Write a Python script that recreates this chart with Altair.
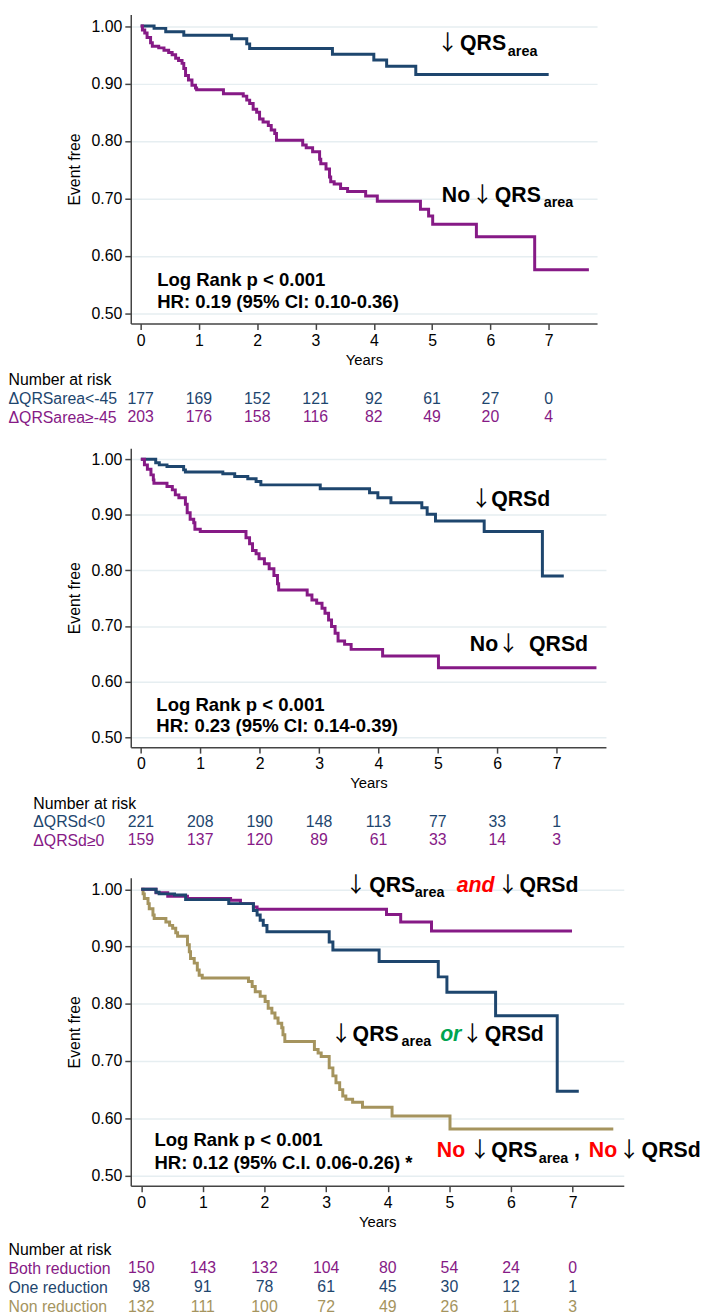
import json
import altair as alt
import pandas as pd

FONT = "Liberation Sans"
ARROW_FONT = "Noto Sans CJK SC"
BLUE = "#1e466e"
PURPLE = "#861a86"
GOLD = "#a5945e"
RED = "#ff0000"
GREEN = "#00a550"
BLACK = "#000000"

years = [0, 1, 2, 3, 4, 5, 6, 7]
y_ticks = [0.5, 0.6, 0.7, 0.8, 0.9, 1.0]

# ---------------- Panel 1 : QRS area ----------------
p1_dec_t = [0, 0.23, 0.43, 0.74, 1.56, 1.82, 1.87, 3.29, 4.0, 4.22, 4.72, 7.0]
p1_dec_s = [1.0, 0.996, 0.990, 0.984, 0.978, 0.969, 0.961, 0.951, 0.941, 0.930, 0.9155, 0.9155]
p1_nodec_t = [0, 0.03, 0.07, 0.11, 0.17, 0.20, 0.31, 0.40, 0.48, 0.54, 0.60, 0.65, 0.71, 0.74, 0.77,
              0.82, 0.88, 0.94, 0.96, 1.42, 1.76, 1.82, 1.87, 1.93, 1.99, 2.04, 2.10, 2.19, 2.24, 2.30,
              2.33, 2.78, 2.84, 2.95, 3.07, 3.09, 3.18, 3.24, 3.26, 3.32, 3.43, 3.55, 3.86, 4.06, 4.80,
              4.94, 5.01, 5.76, 6.76, 7.69]
p1_nodec_s = [1.0, 0.993, 0.988, 0.980, 0.971, 0.965, 0.962, 0.958, 0.954, 0.950, 0.944, 0.940, 0.935,
              0.926, 0.914, 0.906, 0.897, 0.892, 0.889, 0.882, 0.878, 0.871, 0.865, 0.855, 0.850, 0.838,
              0.833, 0.827, 0.819, 0.813, 0.801, 0.793, 0.788, 0.781, 0.768, 0.760, 0.751, 0.737, 0.729,
              0.725, 0.717, 0.712, 0.704, 0.695, 0.681, 0.669, 0.655, 0.633, 0.5755, 0.5755]

p1_risk_labels = ["ΔQRSarea<-45", "ΔQRSarea≥-45"]
p1_risk_dec = [177, 169, 152, 121, 92, 61, 27, 0]
p1_risk_nodec = [203, 176, 158, 116, 82, 49, 20, 4]

p1_ann_text = ["↓", "QRS", "area", "No", "↓", "QRS", "area"]
p1_ann_kind = ["arrow", "bold", "sub", "bold", "arrow", "bold", "sub"]
p1_ann_t = [5.267, 5.479, 6.300, 5.167, 5.863, 6.075, 6.915]
p1_ann_s = [0.9578, 0.9578, 0.9481, 0.6931, 0.6931, 0.6931, 0.6853]
p1_stats = ["Log Rank p < 0.001", "HR: 0.19 (95% CI: 0.10-0.36)"]
p1_stats_t = [0.283, 0.283]
p1_stats_s = [0.5569, 0.5186]

# ---------------- Panel 2 : QRS duration ----------------
p2_dec_t = [0, 0.25, 0.31, 0.44, 0.72, 0.75, 1.38, 1.58, 1.80, 1.94, 2.02, 3.02, 3.85, 3.99, 4.21,
            4.73, 4.82, 4.96, 5.78, 6.76, 7.12]
p2_dec_s = [1.0, 0.994, 0.990, 0.987, 0.981, 0.977, 0.974, 0.969, 0.965, 0.960, 0.954, 0.947, 0.940,
            0.931, 0.922, 0.913, 0.901, 0.889, 0.870, 0.790, 0.790]
p2_nodec_t = [0, 0.06, 0.11, 0.17, 0.21, 0.22, 0.44, 0.53, 0.58, 0.64, 0.75, 0.78, 0.83, 0.89, 0.91,
              1.00, 1.77, 1.83, 1.88, 1.94, 1.99, 2.08, 2.16, 2.24, 2.30, 2.32, 2.80, 2.88, 2.96, 3.05,
              3.10, 3.16, 3.21, 3.27, 3.32, 3.43, 3.54, 4.07, 5.01, 7.67]
p2_nodec_s = [1.0, 0.990, 0.982, 0.972, 0.963, 0.957, 0.951, 0.945, 0.936, 0.931, 0.919, 0.904, 0.892,
              0.886, 0.874, 0.870, 0.859, 0.848, 0.836, 0.830, 0.821, 0.812, 0.803, 0.791, 0.776, 0.765,
              0.756, 0.747, 0.741, 0.732, 0.723, 0.711, 0.699, 0.687, 0.673, 0.667, 0.658, 0.646, 0.625,
              0.625]

p2_risk_labels = ["ΔQRSd<0", "ΔQRSd≥0"]
p2_risk_dec = [221, 208, 190, 148, 113, 77, 33, 1]
p2_risk_nodec = [159, 137, 120, 89, 61, 33, 14, 3]

p2_ann_text = ["↓", "QRSd", "No", "↓", "QRSd"]
p2_ann_kind = ["arrow", "bold", "bold", "arrow", "bold"]
p2_ann_t = [5.731, 5.897, 5.538, 6.188, 6.535]
p2_ann_s = [0.9158, 0.9158, 0.6548, 0.6548, 0.6548]
p2_stats = ["Log Rank p < 0.001", "HR: 0.23 (95% CI: 0.14-0.39)"]
p2_stats_t = [0.261, 0.261]
p2_stats_s = [0.5587, 0.5196]

# ---------------- Panel 3 : combined ----------------
p3_both_t = [0, 0.24, 0.43, 0.75, 1.45, 1.61, 1.82, 1.88, 3.98, 4.21, 4.71, 6.99]
p3_both_s = [1.0, 0.994, 0.988, 0.984, 0.981, 0.975, 0.969, 0.965, 0.956, 0.943, 0.927, 0.927]
p3_one_t = [0, 0.24, 0.29, 0.54, 0.72, 1.42, 1.82, 1.88, 1.93, 1.98, 2.04, 3.05, 3.11, 3.86, 4.82,
            4.96, 5.75, 6.75, 7.10]
p3_one_s = [1.0, 0.995, 0.992, 0.990, 0.982, 0.975, 0.963, 0.955, 0.946, 0.937, 0.926, 0.908, 0.894,
            0.874, 0.847, 0.820, 0.779, 0.647, 0.647]
p3_non_t = [0, 0.03, 0.05, 0.11, 0.13, 0.19, 0.21, 0.40, 0.46, 0.51, 0.56, 0.59, 0.75, 0.78, 0.80,
            0.86, 0.91, 0.94, 0.99, 1.74, 1.80, 1.85, 1.93, 2.01, 2.06, 2.12, 2.17, 2.22, 2.28, 2.30,
            2.33, 2.81, 2.87, 2.92, 3.05, 3.11, 3.16, 3.22, 3.27, 3.32, 3.43, 3.59, 4.07, 5.01, 7.66]
p3_non_s = [1.0, 0.992, 0.984, 0.975, 0.966, 0.955, 0.949, 0.943, 0.937, 0.932, 0.924, 0.918, 0.903,
            0.891, 0.879, 0.871, 0.859, 0.850, 0.845, 0.839, 0.830, 0.821, 0.813, 0.804, 0.792, 0.784,
            0.775, 0.766, 0.758, 0.746, 0.734, 0.720, 0.714, 0.708, 0.688, 0.674, 0.662, 0.650, 0.639,
            0.633, 0.628, 0.619, 0.604, 0.581, 0.581]

p3_risk_labels = ["Both reduction", "One reduction", "Non reduction"]
p3_risk_both = [150, 143, 132, 104, 80, 54, 24, 0]
p3_risk_one = [98, 91, 78, 61, 45, 30, 12, 1]
p3_risk_non = [132, 111, 100, 72, 49, 26, 11, 3]

p3_ann_text = ["↓", "QRS", "area", "and", "↓", "QRSd",
               "↓", "QRS", "area", "or", "↓", "QRSd",
               "No", "↓", "QRS", "area", ",", "No", "↓", "QRSd"]
p3_ann_kind = ["arrow", "bold", "sub", "italic", "arrow", "bold",
               "arrow", "bold", "sub", "italic", "arrow", "bold",
               "bold", "arrow", "bold", "sub", "bold", "bold", "arrow", "bold"]
p3_ann_color = [BLACK, BLACK, BLACK, RED, BLACK, BLACK,
                BLACK, BLACK, BLACK, GREEN, BLACK, BLACK,
                RED, BLACK, BLACK, BLACK, BLACK, RED, BLACK, BLACK]
p3_ann_t = [3.484, 3.698, 4.440, 5.118, 5.949, 6.136,
            3.243, 3.430, 4.225, 4.850, 5.373, 5.574,
            4.796, 5.493, 5.681, 6.450, 7.021, 7.262, 7.918, 8.119]
p3_ann_s = [0.9953, 0.9953, 0.9866, 0.9953, 0.9953, 0.9953,
            0.7345, 0.7345, 0.7257, 0.7345, 0.7345, 0.7345,
            0.5317, 0.5317, 0.5317, 0.5217, 0.5317, 0.5317, 0.5317, 0.5317]
p3_stats = ["Log Rank p < 0.001", "HR: 0.12 (95% C.I. 0.06-0.26) *"]
p3_stats_t = [0.214, 0.214]
p3_stats_s = [0.5617, 0.5217]

# ---------------- styling ----------------
X_DOMAIN = [-0.17, 7.83]
Y_DOMAIN = [0.482, 1.02]
KIND_STYLE = {
    "bold": dict(size=21.5, weight="bold", style="normal", font=FONT, align="left"),
    "sub": dict(size=14.5, weight="bold", style="normal", font=FONT, align="left"),
    "arrow": dict(size=21.5, weight="normal", style="normal", font=ARROW_FONT, align="center"),
    "italic": dict(size=21.5, weight="bold", style="italic", font=FONT, align="left"),
}


def x_enc():
    return alt.X("t:Q", scale=alt.Scale(domain=X_DOMAIN, nice=False, zero=False),
                 axis=alt.Axis(values=years, format="d", title="Years", grid=False,
                               labelFontSize=16, titleFontSize=15, tickSize=6, labelPadding=3,
                               titlePadding=4, labelFlush=False, titleFontWeight="normal"))


def y_enc():
    return alt.Y("S:Q", scale=alt.Scale(domain=Y_DOMAIN, nice=False, zero=False),
                 axis=alt.Axis(values=y_ticks, format=".2f", title="Event free", grid=True,
                               labelFontSize=16, titleFontSize=16, tickSize=6, labelPadding=3,
                               titlePadding=9, titleFontWeight="normal"))


def panel(curves, ann_text, ann_kind, ann_t, ann_s, ann_color, stats, stats_t, stats_s, width, height):
    rows = []
    for name, ts, ss, col in curves:
        for t, s in zip(ts, ss):
            rows.append({"group": name, "t": t, "S": s, "color": col})
    cdf = pd.DataFrame(rows)
    layers = [
        alt.Chart(cdf).mark_line(interpolate="step-after", strokeWidth=3).encode(
            x=x_enc(), y=y_enc(), detail="group:N", color=alt.Color("color:N", scale=None))
    ]
    adf = pd.DataFrame({"text": ann_text, "kind": ann_kind, "t": ann_t, "S": ann_s, "color": ann_color})
    for kind, st in KIND_STYLE.items():
        sub = adf[adf["kind"] == kind].copy()
        if sub.empty:
            continue
        sub["size"] = st["size"]
        layers.append(
            alt.Chart(sub).mark_text(font=st["font"], fontWeight=st["weight"], fontStyle=st["style"],
                                     align=st["align"], baseline="alphabetic").encode(
                x=x_enc(), y=y_enc(), text="text:N",
                size=alt.Size("size:Q", scale=None), color=alt.Color("color:N", scale=None)))
    sdf = pd.DataFrame({"text": stats, "t": stats_t, "S": stats_s})
    layers.append(
        alt.Chart(sdf).mark_text(font=FONT, fontWeight="bold", fontSize=18.7, align="left",
                                 baseline="middle", color=BLACK).encode(
            x=x_enc(), y=y_enc(), text="text:N"))
    return alt.layer(*layers).properties(width=width, height=height)


def risk_table(labels, colors, counts, width, height, top_offset, step, label_pad):
    all_labels = ["Number at risk"] + labels
    rows = []
    for i, (col, cnts) in enumerate(zip(colors, counts)):
        for y, c in zip(years, cnts):
            rows.append({"row": i + 1, "t": y, "n": str(c), "color": col})
    df = pd.DataFrame(rows)
    top_pad = top_offset / step
    total = height / step
    label_expr = json.dumps(all_labels, ensure_ascii=False) + "[datum.value]"
    conds = [{"test": f"datum.value == {i + 1}", "value": c} for i, c in enumerate(colors)]
    return alt.Chart(df).mark_text(font=FONT, fontSize=16, align="center", baseline="middle").encode(
        x=alt.X("t:Q", scale=alt.Scale(domain=X_DOMAIN, nice=False, zero=False), axis=None),
        y=alt.Y("row:Q", scale=alt.Scale(domain=[-top_pad, total - top_pad], reverse=True,
                                         nice=False, zero=False),
                axis=alt.Axis(values=list(range(len(all_labels))), labelExpr=label_expr,
                              labelColor={"condition": conds, "value": BLACK},
                              labelAlign="left", labelBaseline="middle", labelPadding=label_pad,
                              ticks=False, tickSize=0, domain=False, grid=False, title=None,
                              labelFontSize=16, labelOverlap=False)),
        text="n:N",
        color=alt.Color("color:N", scale=None),
    ).properties(width=width, height=height)


p1 = panel([("dec", p1_dec_t, p1_dec_s, BLUE), ("nodec", p1_nodec_t, p1_nodec_s, PURPLE)],
           p1_ann_text, p1_ann_kind, p1_ann_t, p1_ann_s, [BLACK] * len(p1_ann_text),
           p1_stats, p1_stats_t, p1_stats_s, 471, 312)
t1 = risk_table(p1_risk_labels, [BLUE, PURPLE], [p1_risk_dec, p1_risk_nodec], 471, 82, 13, 19, 124)

p2 = panel([("dec", p2_dec_t, p2_dec_s, BLUE), ("nodec", p2_nodec_t, p2_nodec_s, PURPLE)],
           p2_ann_text, p2_ann_kind, p2_ann_t, p2_ann_s, [BLACK] * len(p2_ann_text),
           p2_stats, p2_stats_t, p2_stats_s, 480, 302)
t2 = risk_table(p2_risk_labels, [BLUE, PURPLE], [p2_risk_dec, p2_risk_nodec], 480, 85, 13, 18.5, 99)

p3 = panel([("non", p3_non_t, p3_non_s, GOLD), ("both", p3_both_t, p3_both_s, PURPLE),
            ("one", p3_one_t, p3_one_s, BLUE)],
           p3_ann_text, p3_ann_kind, p3_ann_t, p3_ann_s, p3_ann_color,
           p3_stats, p3_stats_t, p3_stats_s, 498, 311)
t3 = risk_table(p3_risk_labels, [PURPLE, BLUE, GOLD], [p3_risk_both, p3_risk_one, p3_risk_non],
                498, 90, 20, 19.4, 124)

chart = alt.vconcat(p1, t1, p2, t2, p3, t3, spacing=0).properties(
    padding=0
).configure_view(stroke=None).configure_axis(
    labelFont=FONT, titleFont=FONT, labelColor=BLACK, titleColor=BLACK,
    domainColor="#444444", tickColor="#444444", domainWidth=1.5, tickWidth=1.5,
    gridColor="#e6eef1", gridWidth=1.5,
)

chart.save("out.html", embed_options={"renderer": "svg", "actions": False})
